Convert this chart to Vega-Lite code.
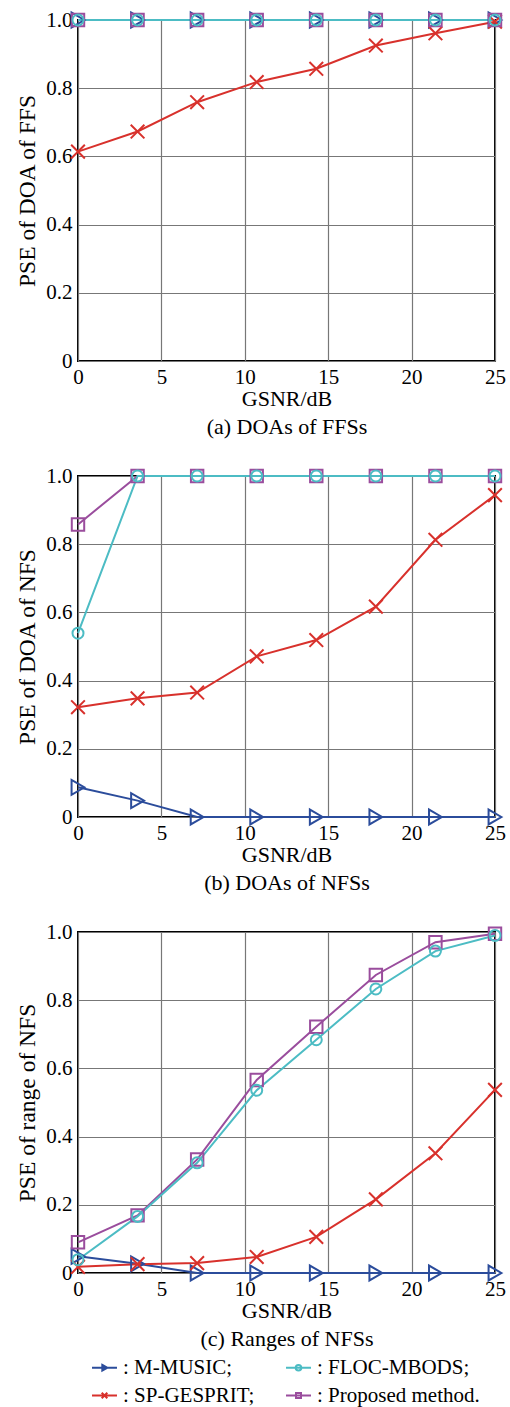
{
  "$schema": "https://vega.github.io/schema/vega-lite/v6.json",
  "padding": {"left": 14, "top": 7, "right": 2, "bottom": 2},
  "background": "white",
  "config": {
    "font": "Liberation Serif, Times New Roman, serif",
    "view": {"stroke": "#000", "strokeWidth": 2},
    "axis": {
      "labelFont": "Liberation Serif, Times New Roman, serif", "labelFontSize": 21, "labelColor": "#000",
      "titleFont": "Liberation Serif, Times New Roman, serif", "titleFontSize": 22, "titleColor": "#000", "titleFontWeight": "normal",
      "ticks": false, "domain": false,
      "grid": true, "gridColor": "#777", "gridWidth": 1.2, "gridOpacity": 1
    },
    "axisX": {"labelPadding": 5, "titlePadding": 1.5, "titleLineHeight": 28, "labelFlush": false},
    "axisY": {"labelPadding": 6, "titlePadding": 6, "titleFontSize": 23.5}
  },
  "datasets": {
    "pse": [
      {"p":"a","s":"M-MUSIC","x":0,"y":1},{"p":"a","s":"M-MUSIC","x":3.571,"y":1},{"p":"a","s":"M-MUSIC","x":7.143,"y":1},{"p":"a","s":"M-MUSIC","x":10.714,"y":1},{"p":"a","s":"M-MUSIC","x":14.286,"y":1},{"p":"a","s":"M-MUSIC","x":17.857,"y":1},{"p":"a","s":"M-MUSIC","x":21.429,"y":1},{"p":"a","s":"M-MUSIC","x":25,"y":1},
      {"p":"a","s":"SP-GESPRIT","x":0,"y":0.614},{"p":"a","s":"SP-GESPRIT","x":3.571,"y":0.673},{"p":"a","s":"SP-GESPRIT","x":7.143,"y":0.759},{"p":"a","s":"SP-GESPRIT","x":10.714,"y":0.818},{"p":"a","s":"SP-GESPRIT","x":14.286,"y":0.857},{"p":"a","s":"SP-GESPRIT","x":17.857,"y":0.925},{"p":"a","s":"SP-GESPRIT","x":21.429,"y":0.961},{"p":"a","s":"SP-GESPRIT","x":25,"y":0.995},
      {"p":"a","s":"Proposed method","x":0,"y":1},{"p":"a","s":"Proposed method","x":3.571,"y":1},{"p":"a","s":"Proposed method","x":7.143,"y":1},{"p":"a","s":"Proposed method","x":10.714,"y":1},{"p":"a","s":"Proposed method","x":14.286,"y":1},{"p":"a","s":"Proposed method","x":17.857,"y":1},{"p":"a","s":"Proposed method","x":21.429,"y":1},{"p":"a","s":"Proposed method","x":25,"y":1},
      {"p":"a","s":"FLOC-MBODS","x":0,"y":1},{"p":"a","s":"FLOC-MBODS","x":3.571,"y":1},{"p":"a","s":"FLOC-MBODS","x":7.143,"y":1},{"p":"a","s":"FLOC-MBODS","x":10.714,"y":1},{"p":"a","s":"FLOC-MBODS","x":14.286,"y":1},{"p":"a","s":"FLOC-MBODS","x":17.857,"y":1},{"p":"a","s":"FLOC-MBODS","x":21.429,"y":1},{"p":"a","s":"FLOC-MBODS","x":25,"y":1},

      {"p":"b","s":"M-MUSIC","x":0,"y":0.087},{"p":"b","s":"M-MUSIC","x":3.571,"y":0.048},{"p":"b","s":"M-MUSIC","x":7.143,"y":0},{"p":"b","s":"M-MUSIC","x":10.714,"y":0},{"p":"b","s":"M-MUSIC","x":14.286,"y":0},{"p":"b","s":"M-MUSIC","x":17.857,"y":0},{"p":"b","s":"M-MUSIC","x":21.429,"y":0},{"p":"b","s":"M-MUSIC","x":25,"y":0},
      {"p":"b","s":"SP-GESPRIT","x":0,"y":0.322},{"p":"b","s":"SP-GESPRIT","x":3.571,"y":0.348},{"p":"b","s":"SP-GESPRIT","x":7.143,"y":0.365},{"p":"b","s":"SP-GESPRIT","x":10.714,"y":0.471},{"p":"b","s":"SP-GESPRIT","x":14.286,"y":0.519},{"p":"b","s":"SP-GESPRIT","x":17.857,"y":0.617},{"p":"b","s":"SP-GESPRIT","x":21.429,"y":0.813},{"p":"b","s":"SP-GESPRIT","x":25,"y":0.944},
      {"p":"b","s":"Proposed method","x":0,"y":0.858},{"p":"b","s":"Proposed method","x":3.571,"y":1},{"p":"b","s":"Proposed method","x":7.143,"y":1},{"p":"b","s":"Proposed method","x":10.714,"y":1},{"p":"b","s":"Proposed method","x":14.286,"y":1},{"p":"b","s":"Proposed method","x":17.857,"y":1},{"p":"b","s":"Proposed method","x":21.429,"y":1},{"p":"b","s":"Proposed method","x":25,"y":1},
      {"p":"b","s":"FLOC-MBODS","x":0,"y":0.539},{"p":"b","s":"FLOC-MBODS","x":3.571,"y":1},{"p":"b","s":"FLOC-MBODS","x":7.143,"y":1},{"p":"b","s":"FLOC-MBODS","x":10.714,"y":1},{"p":"b","s":"FLOC-MBODS","x":14.286,"y":1},{"p":"b","s":"FLOC-MBODS","x":17.857,"y":1},{"p":"b","s":"FLOC-MBODS","x":21.429,"y":1},{"p":"b","s":"FLOC-MBODS","x":25,"y":1},

      {"p":"c","s":"M-MUSIC","x":0,"y":0.049},{"p":"c","s":"M-MUSIC","x":3.571,"y":0.027},{"p":"c","s":"M-MUSIC","x":7.143,"y":0},{"p":"c","s":"M-MUSIC","x":10.714,"y":0},{"p":"c","s":"M-MUSIC","x":14.286,"y":0},{"p":"c","s":"M-MUSIC","x":17.857,"y":0},{"p":"c","s":"M-MUSIC","x":21.429,"y":0},{"p":"c","s":"M-MUSIC","x":25,"y":0},
      {"p":"c","s":"SP-GESPRIT","x":0,"y":0.018},{"p":"c","s":"SP-GESPRIT","x":3.571,"y":0.026},{"p":"c","s":"SP-GESPRIT","x":7.143,"y":0.029},{"p":"c","s":"SP-GESPRIT","x":10.714,"y":0.047},{"p":"c","s":"SP-GESPRIT","x":14.286,"y":0.106},{"p":"c","s":"SP-GESPRIT","x":17.857,"y":0.216},{"p":"c","s":"SP-GESPRIT","x":21.429,"y":0.351},{"p":"c","s":"SP-GESPRIT","x":25,"y":0.537},
      {"p":"c","s":"Proposed method","x":0,"y":0.09},{"p":"c","s":"Proposed method","x":3.571,"y":0.169},{"p":"c","s":"Proposed method","x":7.143,"y":0.333},{"p":"c","s":"Proposed method","x":10.714,"y":0.566},{"p":"c","s":"Proposed method","x":14.286,"y":0.722},{"p":"c","s":"Proposed method","x":17.857,"y":0.874},{"p":"c","s":"Proposed method","x":21.429,"y":0.97},{"p":"c","s":"Proposed method","x":25,"y":0.995},
      {"p":"c","s":"FLOC-MBODS","x":0,"y":0.039},{"p":"c","s":"FLOC-MBODS","x":3.571,"y":0.166},{"p":"c","s":"FLOC-MBODS","x":7.143,"y":0.323},{"p":"c","s":"FLOC-MBODS","x":10.714,"y":0.536},{"p":"c","s":"FLOC-MBODS","x":14.286,"y":0.684},{"p":"c","s":"FLOC-MBODS","x":17.857,"y":0.833},{"p":"c","s":"FLOC-MBODS","x":21.429,"y":0.944},{"p":"c","s":"FLOC-MBODS","x":25,"y":0.99}
    ]
  },
  "data": {"name": "pse"},
  "bounds": "flush",
  "spacing": 115,
  "resolve": {"scale": {"color": "independent", "shape": "independent", "size": "independent"}, "legend": {"color": "independent", "shape": "independent", "size": "independent"}},
  "vconcat": [
    {
      "width": 417, "height": 341,
      "transform": [{"filter": "datum.p == 'a'"}],
      "encoding": {
        "x": {"field": "x", "type": "quantitative", "scale": {"domain": [0, 25], "nice": false}, "axis": {"values": [0, 5, 10, 15, 20, 25], "title": ["GSNR/dB", "(a) DOAs of FFSs"]}},
        "y": {"field": "y", "type": "quantitative", "scale": {"domain": [0, 1], "nice": false}, "axis": {"values": [0, 0.2, 0.4, 0.6, 0.8, 1], "labelExpr": "datum.value == 0 ? '0' : format(datum.value, '.1f')", "title": "PSE of DOA of FFS"}},
        "color": {"field": "s", "type": "nominal", "scale": {"domain": ["M-MUSIC", "SP-GESPRIT", "Proposed method", "FLOC-MBODS"], "range": ["#2b4c9b", "#d8312c", "#9a4d9d", "#4cbcc4"]}, "legend": null}
      },
      "layer": [
        {"mark": {"type": "line", "strokeWidth": 2, "clip": false}},
        {"mark": {"type": "point", "filled": false, "strokeWidth": 2, "opacity": 1, "clip": false},
         "encoding": {
           "shape": {"field": "s", "type": "nominal", "scale": {"domain": ["M-MUSIC", "SP-GESPRIT", "Proposed method", "FLOC-MBODS"], "range": ["triangle-right", "M-1,-1L1,1M-1,1L1,-1", "square", "circle"]}, "legend": null},
           "size": {"field": "s", "type": "nominal", "scale": {"domain": ["M-MUSIC", "SP-GESPRIT", "Proposed method", "FLOC-MBODS"], "range": [220, 121, 110, 169]}, "legend": null}
         }}
      ]
    },
    {
      "width": 417, "height": 341,
      "transform": [{"filter": "datum.p == 'b'"}],
      "encoding": {
        "x": {"field": "x", "type": "quantitative", "scale": {"domain": [0, 25], "nice": false}, "axis": {"values": [0, 5, 10, 15, 20, 25], "title": ["GSNR/dB", "(b) DOAs of NFSs"]}},
        "y": {"field": "y", "type": "quantitative", "scale": {"domain": [0, 1], "nice": false}, "axis": {"values": [0, 0.2, 0.4, 0.6, 0.8, 1], "labelExpr": "datum.value == 0 ? '0' : format(datum.value, '.1f')", "title": "PSE of DOA of NFS"}},
        "color": {"field": "s", "type": "nominal", "scale": {"domain": ["M-MUSIC", "SP-GESPRIT", "Proposed method", "FLOC-MBODS"], "range": ["#2b4c9b", "#d8312c", "#9a4d9d", "#4cbcc4"]}, "legend": null}
      },
      "layer": [
        {"mark": {"type": "line", "strokeWidth": 2, "clip": false}},
        {"mark": {"type": "point", "filled": false, "strokeWidth": 2, "opacity": 1, "clip": false},
         "encoding": {
           "shape": {"field": "s", "type": "nominal", "scale": {"domain": ["M-MUSIC", "SP-GESPRIT", "Proposed method", "FLOC-MBODS"], "range": ["triangle-right", "M-1,-1L1,1M-1,1L1,-1", "square", "circle"]}, "legend": null},
           "size": {"field": "s", "type": "nominal", "scale": {"domain": ["M-MUSIC", "SP-GESPRIT", "Proposed method", "FLOC-MBODS"], "range": [220, 121, 110, 169]}, "legend": null}
         }}
      ]
    },
    {
      "width": 417, "height": 341,
      "transform": [{"filter": "datum.p == 'c'"}],
      "encoding": {
        "x": {"field": "x", "type": "quantitative", "scale": {"domain": [0, 25], "nice": false}, "axis": {"values": [0, 5, 10, 15, 20, 25], "title": ["GSNR/dB", "(c) Ranges of NFSs"]}},
        "y": {"field": "y", "type": "quantitative", "scale": {"domain": [0, 1], "nice": false}, "axis": {"values": [0, 0.2, 0.4, 0.6, 0.8, 1], "labelExpr": "datum.value == 0 ? '0' : format(datum.value, '.1f')", "title": "PSE of range of NFS"}},
        "color": {"field": "s", "type": "nominal", "scale": {"domain": ["M-MUSIC", "SP-GESPRIT", "Proposed method", "FLOC-MBODS"], "range": ["#2b4c9b", "#d8312c", "#9a4d9d", "#4cbcc4"]}, "legend": null}
      },
      "resolve": {"scale": {"color": "independent", "shape": "independent", "size": "independent"}, "legend": {"color": "independent", "shape": "independent", "size": "independent"}},
      "layer": [
        {"mark": {"type": "line", "strokeWidth": 2, "clip": false}},
        {"mark": {"type": "point", "filled": false, "strokeWidth": 2, "opacity": 1, "clip": false},
         "encoding": {
           "shape": {"field": "s", "type": "nominal", "scale": {"domain": ["M-MUSIC", "SP-GESPRIT", "Proposed method", "FLOC-MBODS"], "range": ["triangle-right", "M-1,-1L1,1M-1,1L1,-1", "square", "circle"]}, "legend": null},
           "size": {"field": "s", "type": "nominal", "scale": {"domain": ["M-MUSIC", "SP-GESPRIT", "Proposed method", "FLOC-MBODS"], "range": [220, 121, 110, 169]}, "legend": null}
         }},
        {"transform": [{"filter": "datum.p == 'legend-only'"}],
         "mark": {"type": "point", "filled": false, "strokeWidth": 2, "opacity": 1, "size": 156},
         "encoding": {
           "color": {"field": "s", "type": "nominal", "scale": {"domain": ["M-MUSIC", "SP-GESPRIT", "FLOC-MBODS", "Proposed method"], "range": ["#2b4c9b", "#d8312c", "#4cbcc4", "#9a4d9d"]},
             "legend": {"orient": "none", "legendX": 16, "legendY": 425, "title": null, "columns": 2, "columnPadding": 27, "rowPadding": 6, "padding": 0,
               "symbolSize": 156, "symbolStrokeWidth": 2, "labelOffset": 8, "labelFont": "Liberation Serif, Times New Roman, serif", "labelFontSize": 21, "labelColor": "#000", "labelLimit": 300,
               "labelExpr": "datum.label == 'Proposed method' ? ': Proposed method.' : ': ' + datum.label + ';'"}},
           "shape": {"field": "s", "type": "nominal", "scale": {"domain": ["M-MUSIC", "SP-GESPRIT", "FLOC-MBODS", "Proposed method"], "range": [
             "M-2,0L2,0M-0.35,-0.45L0.45,0L-0.35,0.45Z",
             "M-2,0L2,0M-0.45,-0.45L0.45,0.45M-0.45,0.45L0.45,-0.45",
             "M-2,0L2,0M0.45,0A0.45,0.45,0,1,1,-0.45,0A0.45,0.45,0,1,1,0.45,0Z",
             "M-2,0L2,0M-0.4,-0.4L0.4,-0.4L0.4,0.4L-0.4,0.4Z"]},
             "legend": {"orient": "none", "legendX": 16, "legendY": 425, "title": null, "columns": 2, "columnPadding": 27, "rowPadding": 6, "padding": 0,
               "symbolSize": 156, "symbolStrokeWidth": 2, "labelOffset": 8, "labelFont": "Liberation Serif, Times New Roman, serif", "labelFontSize": 21, "labelColor": "#000", "labelLimit": 300,
               "labelExpr": "datum.label == 'Proposed method' ? ': Proposed method.' : ': ' + datum.label + ';'"}}
         }}
      ]
    }
  ]
}
